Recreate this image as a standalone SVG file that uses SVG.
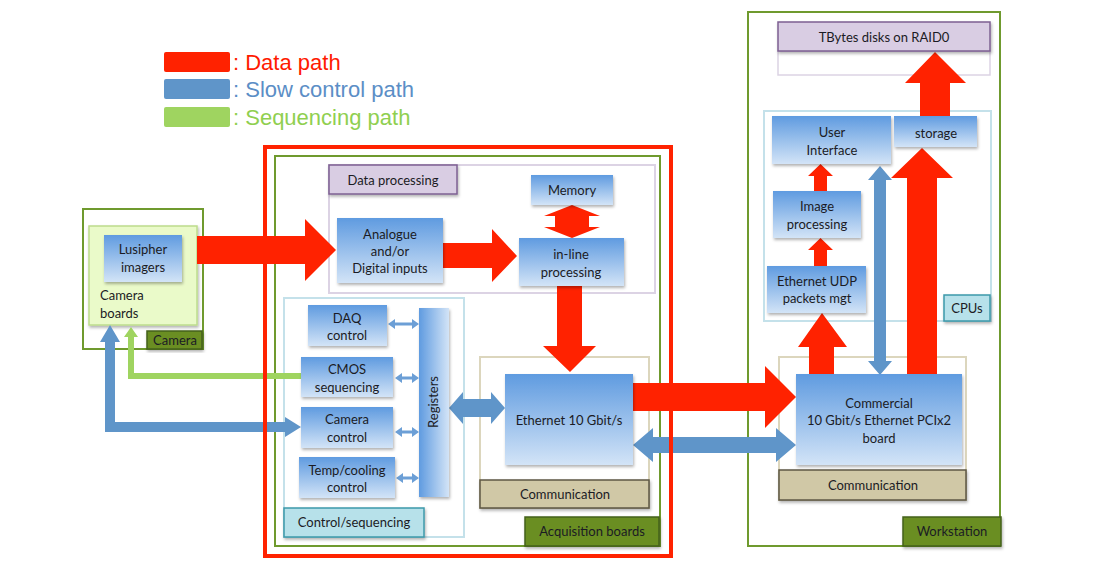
<svg xmlns="http://www.w3.org/2000/svg" width="1104" height="579" viewBox="0 0 1104 579">
<defs>
<linearGradient id="bg" x1="0" y1="0" x2="0" y2="1">
<stop offset="0" stop-color="#5f9be0"/>
<stop offset="1" stop-color="#d3e4f7"/>
</linearGradient>
<linearGradient id="rg" x1="0" y1="0" x2="1" y2="0">
<stop offset="0" stop-color="#5f9be0"/>
<stop offset="1" stop-color="#d3e4f7"/>
</linearGradient>
<filter id="sh" x="-10%" y="-10%" width="130%" height="130%">
<feDropShadow dx="1" dy="2" stdDeviation="1.5" flood-color="#000" flood-opacity="0.3"/>
</filter>
<style>
.t{font-family:Lato,"Open Sans","Liberation Sans",sans-serif;font-size:13px;fill:#1b1b24;text-anchor:middle}
.leg{font-family:"Liberation Sans",Arial,sans-serif;font-size:22px}
.box{fill:url(#bg);filter:url(#sh)}
.cont{fill:none;stroke-width:2}
.olive{fill:#6b8e23;stroke:#44611a;stroke-width:1.5;filter:url(#sh)}
.tan{fill:#d0c8a6;stroke:#5e5744;stroke-width:1.5;filter:url(#sh)}
.purp{fill:#d9cde3;stroke:#7d5f92;stroke-width:1.5;filter:url(#sh)}
.cyan{fill:#b7e1ea;stroke:#3c99aa;stroke-width:1.5;filter:url(#sh)}
.red{fill:#ff2200}
.blue{fill:#5f95c9}
.lblue{fill:#6c9fd6}
.green{fill:#9fd460}
</style>
</defs>
<rect width="1104" height="579" fill="#fff"/>

<g id="legend">
<rect x="164" y="52" width="66" height="20" rx="2" class="red"/>
<rect x="164" y="79" width="66" height="20" rx="2" class="blue"/>
<rect x="164" y="107" width="66" height="20" rx="2" class="green"/>
<text x="233" y="70" class="leg" fill="#ff1a00">: Data path</text>
<text x="233" y="97" class="leg" fill="#5b8ec6">: Slow control path</text>
<text x="233" y="125" class="leg" fill="#8fcf50">: Sequencing path</text>
</g>

<g id="containers">
<rect x="83" y="209" width="120" height="140" class="cont" stroke="#6f9a2e"/>
<rect x="89" y="226" width="108" height="99" fill="#eafac9" stroke="#bddc8c" stroke-width="1.5" filter="url(#sh)"/>
<rect x="275" y="156" width="385" height="390" class="cont" stroke="#6f9a2e"/>
<rect x="329" y="165" width="326" height="128" class="cont" stroke="#dcd3e4"/>
<rect x="284" y="298" width="180" height="239" class="cont" stroke="#c4e1ea"/>
<rect x="480" y="357" width="169" height="151" class="cont" stroke="#dcd6bd"/>
<rect x="748" y="12" width="252" height="534" class="cont" stroke="#6f9a2e"/>
<rect x="778" y="51" width="212" height="24" fill="#fff" stroke="#dcd3e4" stroke-width="1.5"/>
<rect x="764" y="111" width="227" height="210" class="cont" stroke="#c4e1ea"/>
<rect x="779" y="357" width="187" height="143" class="cont" stroke="#dcd6bd"/>
</g>

<g id="connectors">
<polygon class="blue" points="110,325 120,342 115,342 115,422 285,422 285,417 301,427 285,437 285,432 105,432 105,342 100,342"/>
<polygon class="green" points="131,327 138,337 134,337 134,373 301,373 301,379 128,379 128,337 124,337"/>
<polygon class="red" points="197,236 305,236 305,219 336,250 305,281 305,264 197,264"/>
<polygon class="red" points="443,243 492,243 492,229 517,256 492,282 492,268 443,268"/>
<polygon class="red" points="572,205 600,216 589,216 589,227 600,227 572,238 544,227 555,227 555,216 544,216"/>
<polygon class="red" points="557,286 582,286 582,346 596,346 570,372 543,346 557,346"/>
<polygon class="lblue" points="388,324 395,319 395,322.5 412,322.5 412,319 419,324 412,329 412,325.5 395,325.5 395,329"/>
<polygon class="lblue" points="395,378 402,373 402,376.5 412,376.5 412,373 419,378 412,383 412,379.5 402,379.5 402,383"/>
<polygon class="lblue" points="395,432 402,427 402,430.5 412,430.5 412,427 419,432 412,437 412,433.5 402,433.5 402,437"/>
<polygon class="lblue" points="396,478 403,473 403,476.5 412,476.5 412,473 419,478 412,483 412,479.5 403,479.5 403,483"/>
<polygon class="blue" points="449,408 463,392 463,399 491,399 491,392 505,408 491,424 491,417 463,417 463,424"/>
<polygon class="red" points="633,383 765,383 765,366 796,397 765,428 765,411 633,411"/>
<polygon class="blue" points="633,445 653,428 653,437 776,437 776,428 796,445 776,462 776,453 653,453 653,462"/>
<polygon class="red" points="809,375 809,347 798,347 822,313 847,347 834,347 834,375"/>
<polygon class="blue" points="880,166 892,180 886,180 886,361 892,361 880,375 868,361 874,361 874,180 868,180"/>
<polygon class="red" points="907,375 907,178 891,178 922,148 953,178 937,178 937,375"/>
<polygon class="red" points="920,116 920,83 905,83 935,52 966,83 950,83 950,116"/>
<polygon class="red" points="814,266 814,250 808,250 820.5,238 833,250 827,250 827,266"/>
<polygon class="red" points="814,191 814,176 808,176 820.5,164 833,176 827,176 827,191"/>
</g>

<g id="acq-border">
<rect x="265" y="147" width="406" height="409" fill="none" stroke="#ff2200" stroke-width="4"/>
</g>

<g id="camera">
<rect x="104" y="235" width="78" height="47" class="box"/>
<text class="t" x="143" y="254">Lusipher</text>
<text class="t" x="143" y="272">imagers</text>
<text class="t" x="100" y="300" style="text-anchor:start">Camera</text>
<text class="t" x="100" y="318" style="text-anchor:start">boards</text>
<rect x="147" y="331" width="55" height="18" class="olive"/>
<text class="t" x="175" y="345">Camera</text>
</g>

<g id="data-processing">
<rect x="329" y="165" width="128" height="29" class="purp"/>
<text class="t" x="393" y="185">Data processing</text>
</g>
<g id="analogue">
<rect x="337" y="218" width="106" height="65" class="box"/>
<text class="t" x="390" y="239">Analogue</text>
<text class="t" x="390" y="256">and/or</text>
<text class="t" x="390" y="273">Digital inputs</text>
</g>
<g id="memory">
<rect x="531" y="175" width="82" height="30" class="box"/>
<text class="t" x="572" y="195">Memory</text>
</g>
<g id="inline">
<rect x="519" y="238" width="105" height="48" class="box"/>
<text class="t" x="571" y="259">in-line</text>
<text class="t" x="571" y="277">processing</text>
</g>
<g id="daq">
<rect x="308" y="305" width="79" height="41" class="box"/>
<text class="t" x="347" y="323">DAQ</text>
<text class="t" x="347" y="340">control</text>
</g>
<g id="cmos">
<rect x="301" y="357" width="92" height="40" class="box"/>
<text class="t" x="347" y="374">CMOS</text>
<text class="t" x="347" y="392">sequencing</text>
</g>
<g id="camctrl">
<rect x="301" y="407" width="92" height="41" class="box"/>
<text class="t" x="347" y="424">Camera</text>
<text class="t" x="347" y="442">control</text>
</g>
<g id="temp">
<rect x="299" y="457" width="96" height="41" class="box"/>
<text class="t" x="347" y="475">Temp/cooling</text>
<text class="t" x="347" y="492">control</text>
</g>
<g id="registers">
<rect x="419" y="308" width="30" height="189" fill="url(#rg)" filter="url(#sh)"/>
<text class="t" x="0" y="0" transform="translate(438,402) rotate(-90)">Registers</text>
</g>
<g id="ctrlseq">
<rect x="284" y="508" width="140" height="29" class="cyan"/>
<text class="t" x="354" y="527">Control/sequencing</text>
</g>
<g id="ethernet">
<rect x="505" y="374" width="128" height="91" class="box"/>
<text class="t" x="569" y="425">Ethernet 10 Gbit/s</text>
</g>
<g id="comm1">
<rect x="480" y="480" width="169" height="28" class="tan"/>
<text class="t" x="565" y="499">Communication</text>
</g>
<g id="acqlabel">
<rect x="525" y="517" width="134" height="29" class="olive"/>
<text class="t" x="592" y="536">Acquisition boards</text>
</g>

<g id="tbytes">
<rect x="778" y="22" width="212" height="29" class="purp"/>
<text class="t" x="884" y="42">TBytes disks on RAID0</text>
</g>
<g id="ui">
<rect x="772" y="116" width="119" height="48" class="box"/>
<text class="t" x="832" y="137">User</text>
<text class="t" x="832" y="155">Interface</text>
</g>
<g id="storage">
<rect x="894" y="116" width="83" height="31" class="box"/>
<text class="t" x="936" y="138">storage</text>
</g>
<g id="imgproc">
<rect x="773" y="191" width="88" height="47" class="box"/>
<text class="t" x="817" y="211">Image</text>
<text class="t" x="817" y="229">processing</text>
</g>
<g id="udp">
<rect x="767" y="266" width="99" height="47" class="box"/>
<text class="t" x="817" y="286">Ethernet UDP</text>
<text class="t" x="817" y="303">packets mgt</text>
</g>
<g id="cpus">
<rect x="944" y="295" width="46" height="26" class="cyan"/>
<text class="t" x="967" y="313">CPUs</text>
</g>
<g id="commercial">
<rect x="796" y="374" width="166" height="91" class="box"/>
<text class="t" x="879" y="408">Commercial</text>
<text class="t" x="879" y="425">10 Gbit/s Ethernet PCIx2</text>
<text class="t" x="879" y="443">board</text>
</g>
<g id="comm2">
<rect x="779" y="470" width="187" height="30" class="tan"/>
<text class="t" x="873" y="490">Communication</text>
</g>
<g id="wslabel">
<rect x="903" y="517" width="98" height="29" class="olive"/>
<text class="t" x="952" y="536">Workstation</text>
</g>
</svg>
